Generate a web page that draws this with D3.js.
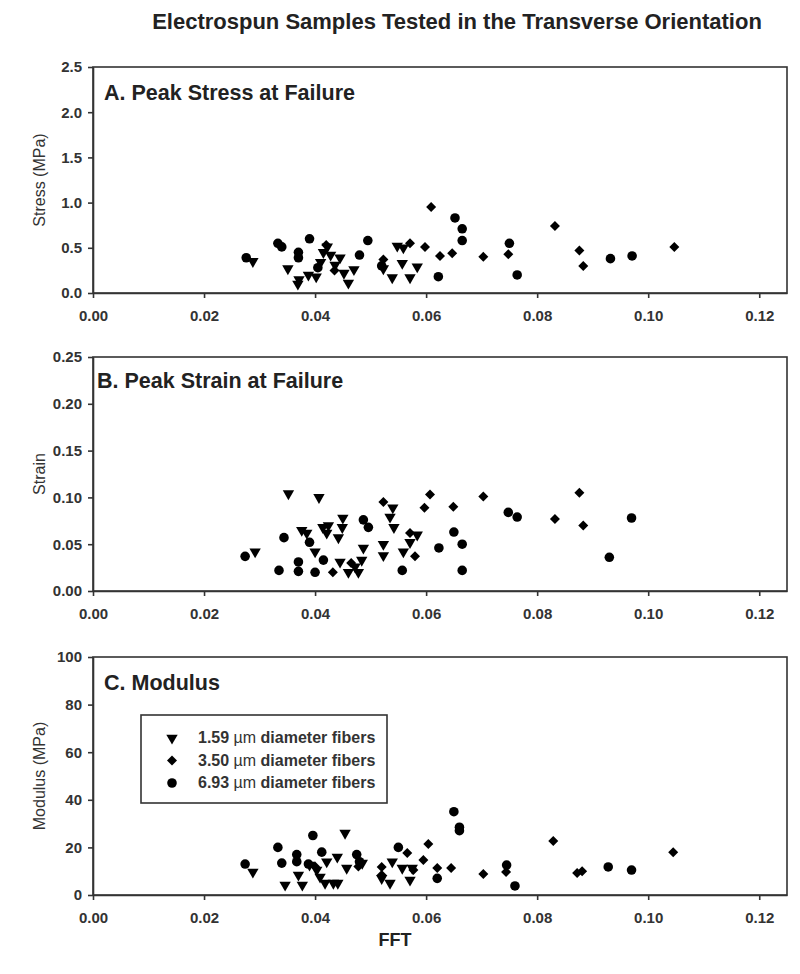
<!DOCTYPE html>
<head>
    <title>Electrospun Samples Tested in the Transverse Orientation</title>
    <style>
        body { margin: 0; background: #fff; }
        .axis path,
        .axis line {
            stroke: #333;
            stroke-width: 1.6px;
        }
        .axis text {
            font-family: "Liberation Sans", Arial, sans-serif;
            font-size: 15px;
            font-weight: bold;
            fill: #333;
        }
    </style>
</head>
<body>
<script src="https://cdnjs.cloudflare.com/ajax/libs/d3/7.8.5/d3.min.js"></script>
<script type="text/javascript">
    // FFT values on x, same ticks for every panel
    var xTicks = [0, 0.02, 0.04, 0.06, 0.08, 0.10, 0.12];

    // legend labels
    var seriesNames = ["1.59", "3.50", "6.93"];

    // A. stress (MPa) -- [fft, value]
    var stressSmall = [[0.0288,0.35],[0.0351,0.27],[0.0369,0.10],[0.0371,0.15],[0.0388,0.20],[0.0402,0.18],
        [0.0410,0.34],[0.0415,0.45],[0.0422,0.51],[0.0428,0.42],[0.0436,0.31],[0.0445,0.39],[0.0452,0.22],
        [0.0460,0.11],[0.0470,0.26],[0.0523,0.27],[0.0539,0.17],[0.0548,0.52],[0.0559,0.50],[0.0557,0.33],
        [0.0571,0.17],[0.0584,0.29]];
    var stressMid = [[0.0420,0.53],[0.0435,0.25],[0.0523,0.37],[0.0571,0.55],[0.0598,0.51],[0.0609,0.95],
        [0.0625,0.41],[0.0647,0.44],[0.0703,0.40],[0.0748,0.43],[0.0832,0.74],[0.0876,0.47],[0.0883,0.30],
        [0.1047,0.51]];
    var stressLarge = [[0.0276,0.39],[0.0333,0.55],[0.0340,0.51],[0.0370,0.45],[0.0370,0.39],[0.0390,0.60],
        [0.0405,0.28],[0.0480,0.42],[0.0495,0.58],[0.0520,0.30],[0.0622,0.18],[0.0652,0.83],[0.0665,0.71],
        [0.0665,0.58],[0.0750,0.55],[0.0764,0.20],[0.0932,0.38],[0.0971,0.41]];

    // B. strain
    var strainSmall = [[0.0292,0.042],[0.0352,0.104],[0.0407,0.100],[0.0376,0.065],[0.0385,0.062],[0.0400,0.042],
        [0.0414,0.068],[0.0424,0.070],[0.0421,0.062],[0.0442,0.057],[0.0450,0.078],[0.0449,0.068],[0.0445,0.031],
        [0.0460,0.020],[0.0472,0.026],[0.0484,0.033],[0.0487,0.046],[0.0478,0.020],[0.0523,0.050],[0.0523,0.038],
        [0.0540,0.089],[0.0535,0.079],[0.0542,0.068],[0.0559,0.042],[0.0571,0.052],[0.0584,0.060]];
    var strainMid = [[0.0432,0.020],[0.0465,0.030],[0.0523,0.095],[0.0571,0.062],[0.0580,0.037],[0.0597,0.089],
        [0.0607,0.103],[0.0649,0.090],[0.0703,0.101],[0.0832,0.077],[0.0876,0.105],[0.0883,0.070]];
    var strainLarge = [[0.0274,0.037],[0.0335,0.022],[0.0344,0.057],[0.0370,0.031],[0.0370,0.021],[0.0390,0.052],
        [0.0400,0.020],[0.0415,0.033],[0.0487,0.076],[0.0496,0.068],[0.0557,0.022],[0.0623,0.046],[0.0650,0.063],
        [0.0665,0.050],[0.0665,0.022],[0.0748,0.084],[0.0764,0.079],[0.0930,0.036],[0.0970,0.078]];

    // C. modulus (MPa)
    var modSmall = [[0.0288,9.7],[0.0346,4.2],[0.0370,8.4],[0.0377,4.2],[0.0390,12.6],[0.0403,10.5],[0.0409,7.6],
        [0.0421,14],[0.0418,5],[0.0433,5],[0.0441,5],[0.0440,16],[0.0454,26],[0.0457,11.3],[0.0485,13.4],
        [0.0520,7],[0.0535,5],[0.0539,14],[0.0557,11.3],[0.0571,6.3],[0.0575,11.3]];
    var modMid = [[0.0400,12],[0.0478,12],[0.0520,11.8],[0.0520,8.4],[0.0566,17.6],[0.0577,10.5],[0.0595,14.7],
        [0.0604,21.4],[0.0620,11.3],[0.0645,11.3],[0.0703,8.8],[0.0744,9.7],[0.0829,22.7],[0.0872,9.2],
        [0.0881,10],[0.1045,18]];
    var modLarge = [[0.0274,13],[0.0333,20],[0.0340,13.4],[0.0367,17],[0.0367,14],[0.0388,13],[0.0396,25],
        [0.0412,18],[0.0475,17],[0.0480,14],[0.0550,20],[0.0620,7],[0.0650,35],[0.0660,28.5],[0.0660,27],
        [0.0745,12.6],[0.0760,3.8],[0.0928,11.8],[0.0970,10.5]];

    var stressTicks = [0, 0.5, 1.0, 1.5, 2.0, 2.5];
    var strainTicks = [0, 0.05, 0.10, 0.15, 0.20, 0.25];
    var modTicks = [0, 20, 40, 60, 80, 100];

    var font = '"Liberation Sans", Arial, sans-serif';
    var left = 93, right = 787;

    var panels = [
        {label: "A. Peak Stress at Failure", ylabel: "Stress (MPa)", top: 67, bottom: 293, ymax: 2.5,
            ticks: stressTicks, fmt: ".1f", data: [stressSmall, stressMid, stressLarge], lx: 104, ly: 100},
        {label: "B. Peak Strain at Failure", ylabel: "Strain", top: 357, bottom: 591, ymax: 0.25,
            ticks: strainTicks, fmt: ".2f", data: [strainSmall, strainMid, strainLarge], lx: 97, ly: 388},
        {label: "C. Modulus", ylabel: "Modulus (MPa)", top: 657, bottom: 895, ymax: 100,
            ticks: modTicks, fmt: "d", data: [modSmall, modMid, modLarge], lx: 104, ly: 690}
    ];

    // marker shapes: down triangle, diamond, circle
    var shapes = [
        {type: d3.symbolTriangle, size: 56, rot: 180},
        {type: d3.symbolSquare, size: 50, rot: 45},
        {type: d3.symbolCircle, size: 72, rot: 0}
    ];

    var svg = d3.select("body")
        .append("svg")
        .attr("width", 800)
        .attr("height", 974);

    var x = d3.scaleLinear().domain([0, 0.125]).range([left, right]);

    svg.append("text")
        .attr("x", 457)
        .attr("y", 29)
        .attr("text-anchor", "middle")
        .style("font-family", font)
        .style("font-size", "22px")
        .style("font-weight", "bold")
        .style("fill", "#222")
        .text("Electrospun Samples Tested in the Transverse Orientation");

    panels.forEach(function (p) {
        var y = d3.scaleLinear().domain([0, p.ymax]).range([p.bottom, p.top]);

        // frame
        svg.append("rect")
            .attr("x", left)
            .attr("y", p.top)
            .attr("width", right - left)
            .attr("height", p.bottom - p.top)
            .attr("fill", "none")
            .attr("stroke", "#333")
            .attr("stroke-width", 1.6);

        svg.append("g")
            .attr("class", "axis")
            .attr("transform", "translate(0," + p.bottom + ")")
            .call(d3.axisBottom(x).tickValues(xTicks).tickFormat(d3.format(".2f"))
                .tickSize(5).tickSizeOuter(0).tickPadding(12));

        svg.append("g")
            .attr("class", "axis")
            .attr("transform", "translate(" + left + ",0)")
            .call(d3.axisLeft(y).tickValues(p.ticks).tickFormat(d3.format(p.fmt))
                .tickSize(5).tickSizeOuter(0).tickPadding(6));

        svg.append("text")
            .attr("transform", "translate(45," + ((p.top + p.bottom) / 2) + ") rotate(-90)")
            .attr("text-anchor", "middle")
            .style("font-family", font)
            .style("font-size", "16px")
            .style("fill", "#333")
            .text(p.ylabel);

        svg.append("text")
            .attr("x", p.lx)
            .attr("y", p.ly)
            .style("font-family", font)
            .style("font-size", "21.5px")
            .style("font-weight", "bold")
            .style("fill", "#222")
            .text(p.label);

        p.data.forEach(function (series, i) {
            var s = shapes[i];
            svg.append("g")
                .selectAll("path")
                .data(series)
                .enter()
                .append("path")
                .attr("d", d3.symbol().type(s.type).size(s.size))
                .attr("transform", function (d) {
                    return "translate(" + x(d[0]) + "," + y(d[1]) + ") rotate(" + s.rot + ")";
                })
                .attr("fill", "#000");
        });
    });

    // legend in panel C
    var legend = svg.append("g");
    legend.append("rect")
        .attr("x", 141)
        .attr("y", 715)
        .attr("width", 246)
        .attr("height", 88)
        .attr("fill", "#fff")
        .attr("stroke", "#333")
        .attr("stroke-width", 1.6);

    seriesNames.forEach(function (name, i) {
        var s = shapes[i];
        var cy = 738 + i * 22.5;
        legend.append("path")
            .attr("d", d3.symbol().type(s.type).size(s.size))
            .attr("transform", "translate(172," + cy + ") rotate(" + s.rot + ")")
            .attr("fill", "#000");
        var t = legend.append("text")
            .attr("x", 198)
            .attr("y", cy + 5)
            .style("font-family", font)
            .style("font-size", "16px")
            .style("font-weight", "bold")
            .style("fill", "#333");
        t.append("tspan").text(name + " ");
        t.append("tspan").style("font-weight", "normal").text("\u00b5m");
        t.append("tspan").text(" diameter fibers");
    });

    svg.append("text")
        .attr("x", 395)
        .attr("y", 946)
        .attr("text-anchor", "middle")
        .style("font-family", font)
        .style("font-size", "18px")
        .style("font-weight", "bold")
        .style("fill", "#222")
        .text("FFT");
</script>
</body>
